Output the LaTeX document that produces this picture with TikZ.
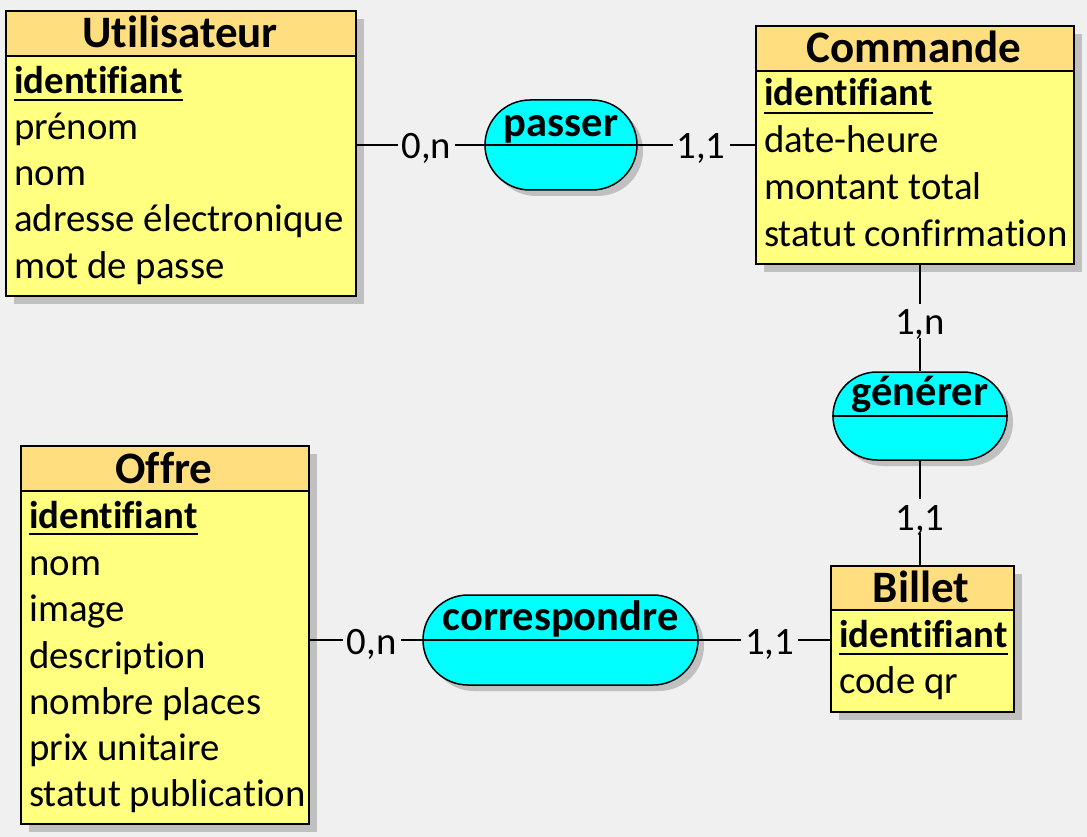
\documentclass[tikz,border=0pt]{standalone}
\usepackage{fontspec}
\setmainfont{Carlito}[Ligatures={NoCommon,NoDiscretionary,NoContextual}]
\usetikzlibrary{shapes.misc,shadows,calc}
\definecolor{bg}{HTML}{F0F0F0}
\definecolor{bodyy}{HTML}{FFFF80}
\definecolor{hdry}{HTML}{FFDE80}
\definecolor{relc}{HTML}{00FFFF}
\definecolor{shd}{HTML}{C0C0C0}
\begin{document}
\begin{tikzpicture}[x=1pt,y=-1pt,
  ent/.style={draw=black, line width=2pt, fill=bodyy, rectangle, inner sep=0pt, anchor=north west,
    drop shadow={shadow xshift=8pt, shadow yshift=-8pt, fill=shd, opacity=1}},
  hdr/.style={draw=black, line width=2pt, fill=hdry, rectangle, inner sep=0pt, anchor=north west},
  rel/.style={rounded rectangle, draw=black, line width=1.5pt, fill=relc, inner sep=0pt,
    drop shadow={shadow xshift=6pt, shadow yshift=-6pt, fill=shd, opacity=1}},
  title/.style={font=\fontsize{45}{50}\selectfont\bfseries, anchor=base, inner sep=0pt},
  attr/.style={font=\fontsize{38.8}{46}\selectfont, anchor=base west, inner sep=0pt},
  keyattr/.style={font=\fontsize{38.8}{46}\selectfont\bfseries, anchor=base west, inner sep=0pt},
  uline/.style={line width=2pt},
  reltxt/.style={font=\fontsize{42.5}{48}\selectfont\bfseries, anchor=base, inner sep=0pt},
  card/.style={font=\fontsize{38.8}{46}\selectfont, fill=bg, inner xsep=4pt, inner ysep=1pt, text height=30pt, text depth=2pt},
  link/.style={line width=1.2pt},
  midline/.style={line width=1.5pt}
]
\fill[bg] (0,0) rectangle (1087,837);
\useasboundingbox (0,0) rectangle (1087,837);

% Utilisateur
\node[ent, minimum width=350pt, minimum height=285pt] (util) at (5,10) {};
\node[hdr, minimum width=350pt, minimum height=45pt] (utilh) at (5,10) {};
\node[title] (utilt) at (180,48) {Utilisateur};
\node[keyattr] (util1) at (14,94) {identifiant};
\draw[uline] ($(util1.base west)+(0,6)$) -- ($(util1.base east)+(0,6)$);
\node[attr] (util2) at (14,140) {prénom};
\node[attr] (util3) at (14,186) {nom};
\node[attr] (util4) at (14,232) {adresse électronique};
\node[attr] (util5) at (14,278) {mot de passe};

% Commande
\node[ent, minimum width=318pt, minimum height=238pt] (comm) at (755,25) {};
\node[hdr, minimum width=318pt, minimum height=45pt] (commh) at (755,25) {};
\node[title] (commt) at (914,63) {Commande};
\node[keyattr] (comm1) at (764,106) {identifiant};
\draw[uline] ($(comm1.base west)+(0,7)$) -- ($(comm1.base east)+(0,7)$);
\node[attr] (comm2) at (764,153) {date-heure};
\node[attr] (comm3) at (764,200) {montant total};
\node[attr] (comm4) at (764,247) {statut confirmation};

% Offre
\node[ent, minimum width=288pt, minimum height=378pt] (offre) at (20,445) {};
\node[hdr, minimum width=288pt, minimum height=45pt] (offreh) at (20,445) {};
\node[title] (offret) at (164,483) {Offre};
\node[keyattr] (offre1) at (29,528) {identifiant};
\draw[uline] ($(offre1.base west)+(0,6)$) -- ($(offre1.base east)+(0,6)$);
\node[attr] (offre2) at (29,575) {nom};
\node[attr] (offre3) at (29,621) {image};
\node[attr] (offre4) at (29,668) {description};
\node[attr] (offre5) at (29,714) {nombre places};
\node[attr] (offre6) at (29,760) {prix unitaire};
\node[attr] (offre7) at (29,806) {statut publication};

% Billet
\node[ent, minimum width=183pt, minimum height=146pt] (billet) at (830,565) {};
\node[hdr, minimum width=183pt, minimum height=44pt] (billeth) at (830,565) {};
\node[title] (billett) at (921,602) {Billet};
\node[keyattr] (billet1) at (839,647) {identifiant};
\draw[uline] ($(billet1.base west)+(0,7)$) -- ($(billet1.base east)+(0,7)$);
\node[attr] (billet2) at (839,693) {code qr};

% Relations
\node[rel, minimum width=152pt, minimum height=90pt] (passer) at (561,145) {};
\draw[midline] (passer.west) -- (passer.east);
\node[reltxt] (passert) at (561,137) {passer};

\node[rel, minimum width=174pt, minimum height=88pt] (generer) at (920,416) {};
\draw[midline] (generer.west) -- (generer.east);
\node[reltxt] (generert) at (920,405) {générer};

\node[rel, minimum width=275pt, minimum height=90pt] (corr) at (560.5,640) {};
\draw[midline] (corr.west) -- (corr.east);
\node[reltxt] (corrt) at (560.5,630) {correspondre};

% Connectors
\draw[link] (util.east |- passer.west) -- node[card, pos=.546] (c1) {0,n} (passer.west);
\draw[link] (passer.east) -- node[card, pos=.54] (c2) {1,1} (passer.east -| comm.west);
\draw[link] (generer.north |- comm.south) -- node[card, pos=.523] (c3) {1,n} (generer.north);
\draw[link] (generer.south) -- node[card, pos=.53] (c4) {1,1} (generer.south |- billet.north);
\draw[link] (offre.east |- corr.west) -- node[card, pos=.55] (c5) {0,n} (corr.west);
\draw[link] (corr.east) -- node[card, pos=.54] (c6) {1,1} (corr.east -| billet.west);
\end{tikzpicture}
\end{document}
